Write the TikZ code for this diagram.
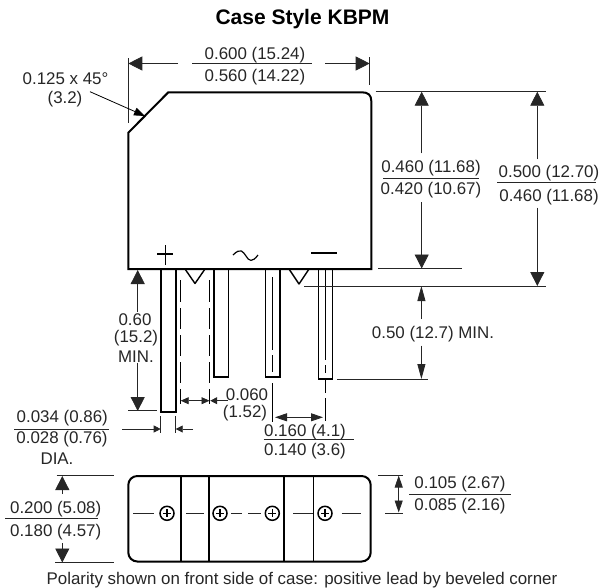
\documentclass[tikz,border=0pt]{standalone}
\usepackage{fontspec}
\setmainfont{Liberation Sans}
\usetikzlibrary{arrows.meta}
\definecolor{ink}{gray}{0.15}
\tikzset{
  x=1pt,y=-1pt,
  body/.style={line width=2pt,black,line join=miter},
  thin line/.style={line width=0.8pt,black!85},
  centre/.style={line width=0.8pt,black},
  big/.style={thin line,-{Triangle[length=14pt,width=14pt]}},
  tall/.style={thin line,-{Triangle[length=15pt,width=8pt]}},
  small/.style={thin line,-{Triangle[length=7pt,width=7pt]}},
  both small/.style={thin line,{Triangle[length=8pt,width=7pt]}-{Triangle[length=8pt,width=7pt]}},
  both mid/.style={thin line,{Triangle[length=12pt,width=8pt]}-{Triangle[length=12pt,width=8pt]}},
  lbl/.style={anchor=base,inner sep=0pt,font=\fontsize{16.9pt}{18pt}\selectfont,text=ink},
  rule/.style={line width=0.8pt,black!85},
}
\begin{document}
\begin{tikzpicture}
\useasboundingbox (0,0) rectangle (605,587);
\node[lbl,text=black,font=\fontsize{21pt}{22pt}\selectfont\bfseries] (title) at (302.5,24) {Case Style KBPM};
% body
\draw[body] (128.3,132.7) -- (168.3,92.3) -- (362,92.3) .. controls (368,92.3) and (371.3,95) .. (371.3,101) -- (371.3,269) -- (128.3,269) -- cycle;
% leads
\foreach \a/\b/\c in {161/175.7/412,213.7/228.3/377,265.3/279.7/377,318.3/332.3/378.7}
  \draw[body,line width=1.6pt] (\a,269) -- (\a,\c) -- (\b,\c) -- (\b,269);
% notches
\draw[body,line width=1.4pt,line join=round] (185,269) -- (195,283.5) -- (205,269);
\draw[body,line width=1.4pt,line join=round] (289,269) -- (299,284) -- (309,269);
% polarity marks
\draw[line width=1.2pt] (157,254) -- (173,254) (165.3,245) -- (165.3,265);
\draw[line width=1.2pt] (233,255) .. controls (241,247) and (243,252) .. (246,256) .. controls (249,261) and (252,263) .. (258,255);
\draw[line width=1.2pt] (311,253) -- (336.7,253);
% centre lines
\foreach \x in {180.7,209.5}
  \draw[centre] (\x,280) -- (\x,302) (\x,308) -- (\x,329) (\x,335) -- (\x,356) (\x,362) -- (\x,383) (\x,389) -- (\x,404);
\draw[centre] (272.3,277) -- (272.3,350) (272.3,355) -- (272.3,372) (272.3,383) -- (272.3,422);
\draw[centre] (325.3,270) -- (325.3,360) (325.3,365) -- (325.3,373) (325.3,380) -- (325.3,393) (325.3,398) -- (325.3,421);
% top dimension
\draw[thin line] (128.3,58) -- (128.3,122.7) (369.7,57) -- (369.7,85);
\draw[big] (178,63.5) -- (128.3,63.5);
\draw[big] (325,63.5) -- (369.7,63.5);
\draw[rule] (192,63.5) -- (312,63.5);
\node[lbl] (ttop) at (255,59.5) {0.600 (15.24)};
\node[lbl] (tbot) at (255,81) {0.560 (14.22)};
% chamfer
\node[lbl] (cham) at (65.5,84) {0.125 x 45°};
\node[lbl] (chamb) at (65,103.5) {(3.2)};
\draw[thin line,black,-{Triangle[length=11pt,width=8pt]}] (90,91.7) -- (145,116);
% height dimensions
\draw[thin line] (375.7,91.7) -- (545.7,91.7) (378,268.5) -- (461.7,268.5) (304,286) -- (546,286);
\draw[big] (421.7,153.3) -- (421.7,91.7);
\draw[big] (421.7,202) -- (421.7,268.5);
\draw[rule] (383,178) -- (479,178);
\node[lbl] (a) at (431,172) {0.460 (11.68)};
\node[lbl] (b) at (431,194.5) {0.420 (10.67)};
\draw[big] (537.3,159.3) -- (537.3,91.7);
\draw[big] (537.3,207.7) -- (537.3,286);
\draw[rule] (497,182.7) -- (596,182.7);
\node[lbl] (c) at (549,177.5) {0.500 (12.70)};
\node[lbl] (d) at (549,201) {0.460 (11.68)};
% min length
\draw[tall] (421.4,319) -- (421.4,286);
\draw[tall] (421.4,345.7) -- (421.4,379);
\draw[thin line] (337,379) -- (427.7,379);
\node[lbl] (e) at (433,338.5) {0.50 (12.7) MIN.};
% left length
\draw[big] (137.7,311.7) -- (137.7,270);
\draw[big] (137.7,363) -- (137.7,411);
\draw[thin line] (128.3,410.5) -- (156.7,410.5);
\node[lbl] (f) at (135,325) {0.60};
\node[lbl] (g) at (136,342) {(15.2)};
\node[lbl] (h) at (136,362) {MIN.};
% pitch
\draw[both small] (180.7,400.7) -- (209.5,400.7);
\draw[small] (228,400.7) -- (210.2,400.7);
\node[lbl] (i) at (247,400) {0.060};
\node[lbl] (j) at (245,417.7) {(1.52)};
\draw[both mid] (275,417.3) -- (323,417.3);
\node[lbl] (k) at (305,436) {0.160 (4.1)};
\draw[rule] (263.7,439.3) -- (353.7,439.3);
\node[lbl] (l) at (305,455.5) {0.140 (3.6)};
% diameter
\draw[thin line] (160.7,416) -- (160.7,433) (175.7,416) -- (175.7,433);
\draw[small] (122,429) -- (160.7,429);
\draw[small] (193,429) -- (175.7,429);
\node[lbl] (m) at (62.3,422.5) {0.034 (0.86)};
\draw[rule] (14,429) -- (109,429);
\node[lbl] (n) at (62,443.5) {0.028 (0.76)};
\node[lbl] (o) at (57,464) {DIA.};
% bottom view
\draw[body,rounded corners=9pt] (128.3,476) rectangle (370.7,561.5);
\foreach \x in {180.7,209,284,313.3}
  \draw[body,line width=1.6pt] (\x,476) -- (\x,561.5);
\foreach \x in {167,220,272.3,325}{
  \draw[line width=1.5pt] (\x,513.3) circle[radius=7];
  \draw[line width=1.2pt] (\x-4,513.3) -- (\x+4,513.3) (\x,509.3) -- (\x,517.3);
}
\foreach \a/\b in {133.3/154,186/203.7,231/241.7,248/260.7,293/313,341.7/360.7}
  \draw[thin line] (\a,513.3) -- (\b,513.3);
% right of bottom view
\draw[thin line] (378,475) -- (402.7,475) (385,513) -- (402.7,513);
\draw[both mid] (398.7,475.5) -- (398.7,512.5);
\node[lbl] (p) at (460,488) {0.105 (2.67)};
\draw[rule] (409,494) -- (511,494);
\node[lbl] (q) at (460,510) {0.085 (2.16)};
% left of bottom view
\draw[thin line] (56.7,475.7) -- (114,475.7) (55,562.7) -- (114,562.7);
\draw[big] (62.3,494) -- (62.3,476);
\draw[big] (62.3,543) -- (62.3,562.5);
\node[lbl] (r) at (55.7,513.7) {0.200 (5.08)};
\draw[rule] (5,518.7) -- (97.7,518.7);
\node[lbl] (s) at (55.7,536) {0.180 (4.57)};
\node[lbl] (cap) at (302,584) {Polarity shown on front side of case: positive lead by beveled corner};
\end{tikzpicture}
\end{document}
